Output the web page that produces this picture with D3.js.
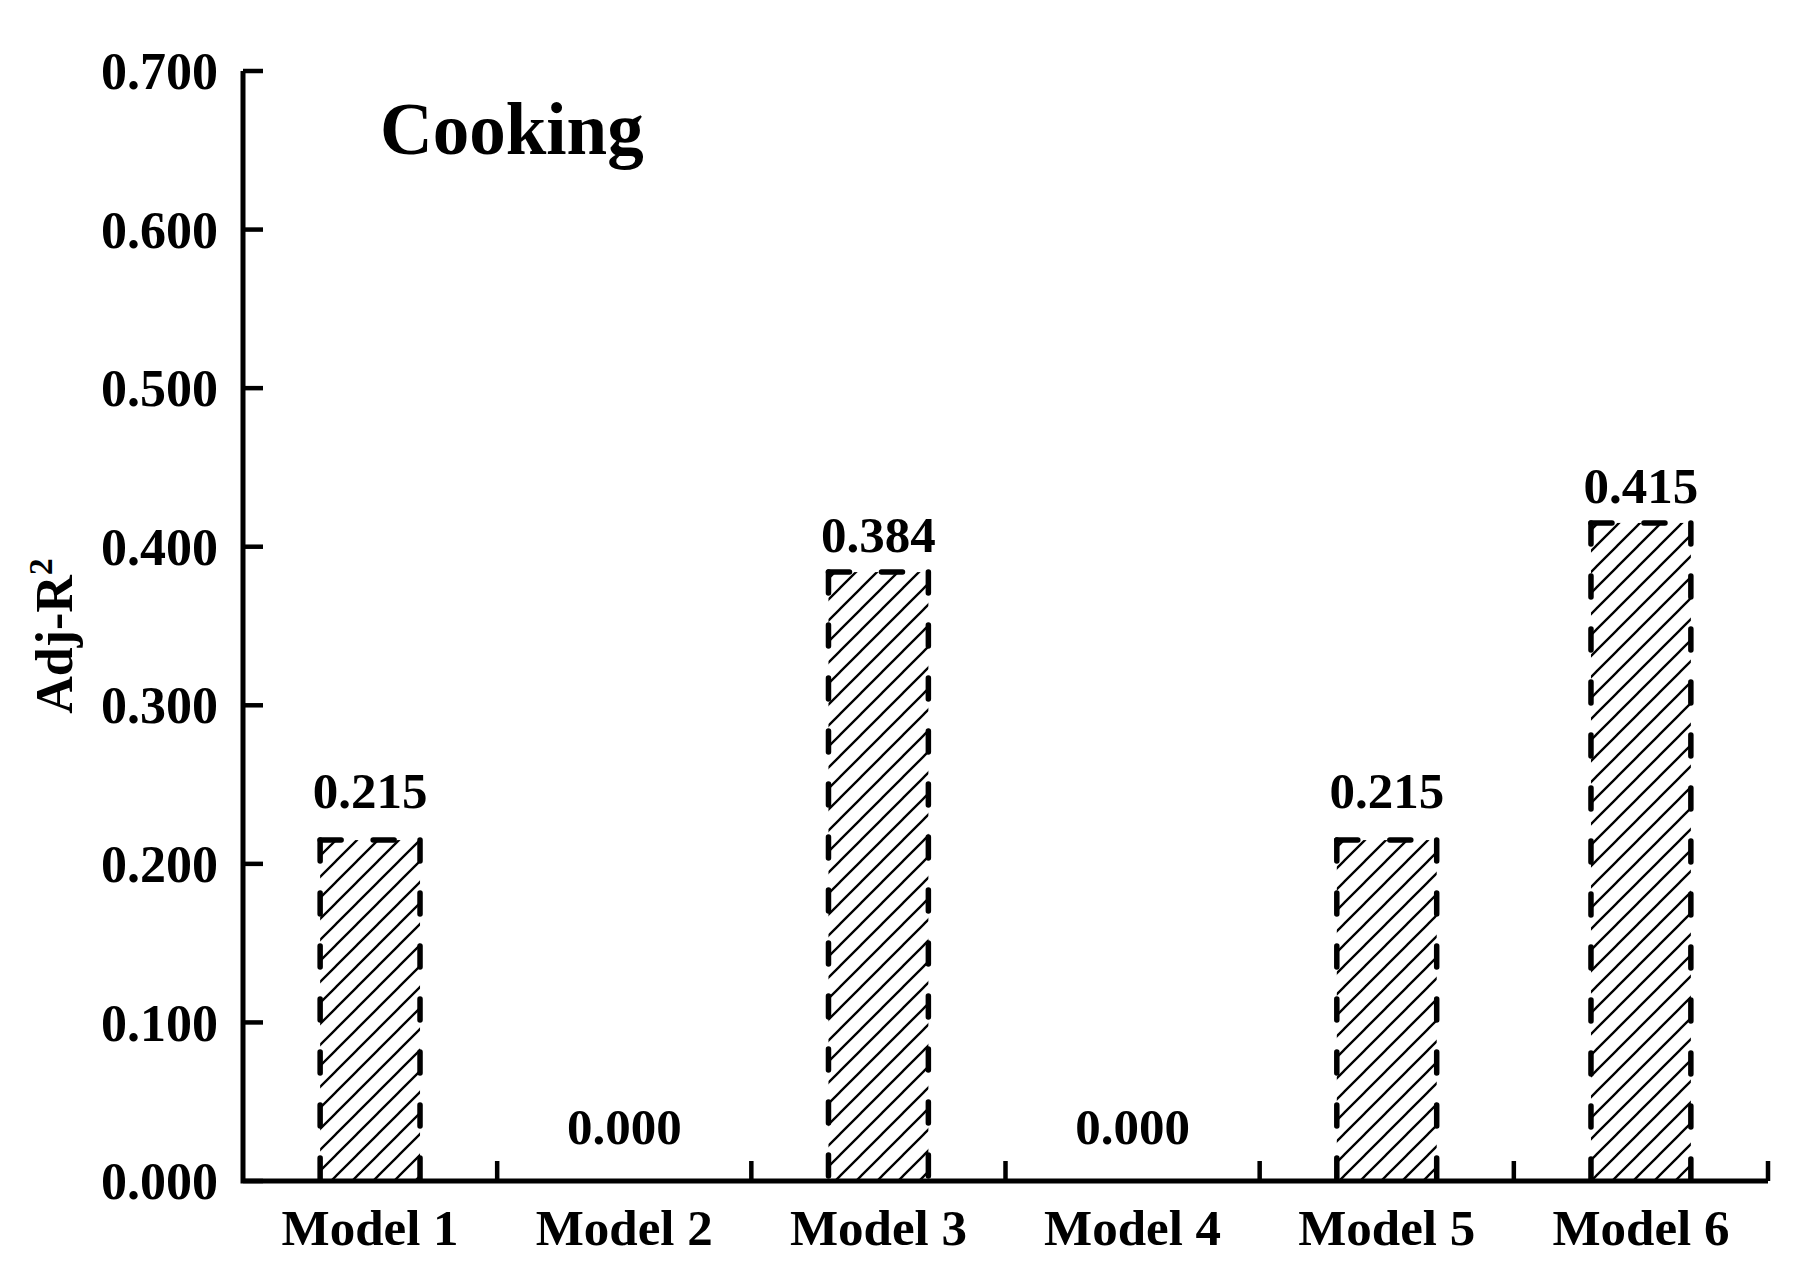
<!DOCTYPE html>
<html>
<head>
<meta charset="utf-8">
<script src="https://cdn.jsdelivr.net/npm/d3@7"></script>
<style>
html,body{margin:0;padding:0;background:#fff;}
svg{display:block;}
text{font-family:"Liberation Serif","Times New Roman",serif;font-weight:bold;fill:#000;}
</style>
</head>
<body>
<svg id="chart" width="1800" height="1280"></svg>
<script>
// Data
const categories = ["Model 1","Model 2","Model 3","Model 4","Model 5","Model 6"];
const values = [0.215, 0.000, 0.384, 0.000, 0.215, 0.415];
const valueLabels = ["0.215","0.000","0.384","0.000","0.215","0.415"];
const yTicks = [0, 0.1, 0.2, 0.3, 0.4, 0.5, 0.6, 0.7];
const chartTitle = "Cooking";

(function(){
const svg = d3.select("#chart");
const pLeft = 243, pRight = 1768, pTop = 71, pBottom = 1181;

const x = d3.scaleBand().domain(categories).range([pLeft, pRight])
  .paddingInner(0.607).paddingOuter(0.3035);
const y = d3.scaleLinear().domain([0, 0.7]).range([pBottom, pTop]);

// hatch pattern
const defs = svg.append("defs");
const pat = defs.append("pattern").attr("id","hatch")
  .attr("patternUnits","userSpaceOnUse").attr("width",21).attr("height",21);
pat.append("path").attr("d","M-5,5 L5,-5 M0,21 L21,0 M16,26 L26,16")
  .attr("stroke","#000").attr("stroke-width",2.3).attr("fill","none");

const data = categories.map((c,i)=>({cat:c, v:values[i], label:valueLabels[i]}));

// bars fill
svg.append("g").selectAll("rect").data(data).join("rect")
  .attr("x", d=>x(d.cat)).attr("y", d=>y(d.v))
  .attr("width", x.bandwidth()).attr("height", d=>pBottom - y(d.v))
  .attr("fill","url(#hatch)");

// dashed outlines (top, left, right)
const outline = svg.append("g").attr("stroke","#000").attr("stroke-width",5.5)
  .attr("stroke-linecap","round").attr("stroke-dasharray","21,32").attr("fill","none");
data.filter(d=>d.v>0).forEach(d=>{
  const x0 = x(d.cat), x1 = x(d.cat)+x.bandwidth(), yt = y(d.v);
  outline.append("path").attr("d",`M${x0},${yt} L${x1},${yt}`);
  outline.append("path").attr("d",`M${x0},${yt} L${x0},${pBottom}`);
  outline.append("path").attr("d",`M${x1},${yt} L${x1},${pBottom}`);
});

// value labels
svg.append("g").selectAll("text").data(data).join("text")
  .attr("x", d=>x(d.cat)+x.bandwidth()/2)
  .attr("y", d=>y(d.v) - (d.v > 0.3 ? 20 : (d.v > 0 ? 32 : 37)))
  .attr("text-anchor","middle")
  .attr("font-size",51)
  .text(d=>d.label);

// axes
const axes = svg.append("g").attr("stroke","#000").attr("fill","none");
axes.append("path").attr("d",`M${pLeft},${pTop} L${pLeft},${pBottom} L${pRight},${pBottom}`)
  .attr("stroke-width",5).attr("stroke-linejoin","miter");

// y ticks (inward)
axes.selectAll(".yt").data(yTicks).join("line")
  .attr("x1",pLeft).attr("x2",pLeft+20)
  .attr("y1",d=>y(d)).attr("y2",d=>y(d))
  .attr("stroke-width",4.5);

// x ticks at band boundaries (upward)
const step = x.step();
const xTickPos = categories.map((c,i)=>pLeft + step*(i+1));
axes.selectAll(".xt").data(xTickPos).join("line")
  .attr("x1",d=>d).attr("x2",d=>d)
  .attr("y1",pBottom).attr("y2",pBottom-20)
  .attr("stroke-width",4.5);

// y tick labels
svg.append("g").selectAll("text").data(yTicks).join("text")
  .attr("x", pLeft-25).attr("y", d=>y(d)).attr("dy","0.35em")
  .attr("text-anchor","end").attr("font-size",52)
  .text(d=>d3.format(".3f")(d));

// x labels
svg.append("g").selectAll("text").data(categories).join("text")
  .attr("x", d=>x(d)+x.bandwidth()/2).attr("y", 1245)
  .attr("text-anchor","middle").attr("font-size",51)
  .text(d=>d);

// y axis title
const ytl = svg.append("text")
  .attr("transform","translate(72,636) rotate(-90)")
  .attr("text-anchor","middle").attr("font-size",52);
ytl.append("tspan").text("Adj-R");
ytl.append("tspan").attr("font-size",34).attr("dy",-20).text("2");

// panel title
svg.append("text").attr("x",380).attr("y",154).attr("font-size",73).text(chartTitle);
})();
</script>
</body>
</html>
